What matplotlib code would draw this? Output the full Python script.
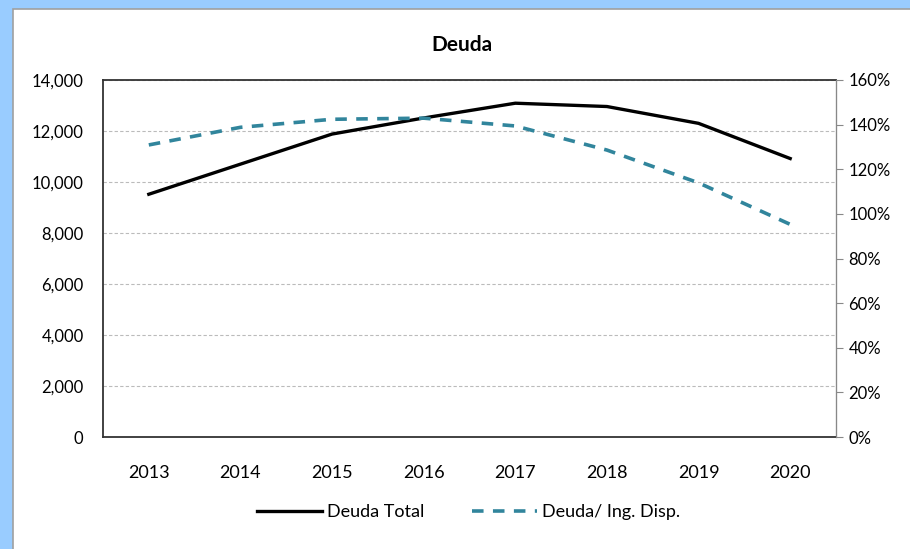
import matplotlib.pyplot as plt
from matplotlib.patches import Rectangle
from matplotlib.ticker import FuncFormatter, MultipleLocator

plt.rcParams['font.family'] = ['Lato', 'DejaVu Sans']

# datos
years = ['2013', '2014', '2015', '2016', '2017', '2018', '2019', '2020']
deuda_total = [9520, 10700, 11880, 12510, 13090, 12960, 12300, 10920]
deuda_ing = [1.309, 1.388, 1.424, 1.429, 1.394, 1.286, 1.139, 0.953]

fig = plt.figure(figsize=(9.1, 5.49), dpi=100, facecolor='#99CCFF')
fig.patches.append(Rectangle((13 / 910, -0.05), 1.1, 1.05 - 9 / 549, transform=fig.transFigure,
                             facecolor='white', edgecolor='#A0A0A0', linewidth=1.2, zorder=-10))

ax = fig.add_axes([103 / 910, 1 - 437 / 549, (836 - 103) / 910, (437 - 80) / 549])
ax2 = ax.twinx()

x = list(range(len(years)))
l1, = ax.plot(x, deuda_total, color='black', linewidth=2.4, label='Deuda Total', zorder=3)
l2, = ax2.plot(x, deuda_ing, color='#31859C', linewidth=2.6, linestyle=(0, (3.2, 2.6)),
               label='Deuda/ Ing. Disp.')

ax.set_xlim(-0.5, len(years) - 0.5)
ax.set_ylim(0, 14000)
ax2.set_ylim(0, 1.6)
ax.set_xticks(x)
ax.set_xticklabels(years)
ax.yaxis.set_major_locator(MultipleLocator(2000))
ax.yaxis.set_major_formatter(FuncFormatter(lambda v, p: f'{int(v):,}'))
ax2.yaxis.set_major_locator(MultipleLocator(0.2))
ax2.yaxis.set_major_formatter(FuncFormatter(lambda v, p: f'{v * 100:.0f}%'))

ax.grid(axis='y', color='#BBBBBB', linestyle=(0, (3, 2)), linewidth=0.8)
ax.set_axisbelow(True)
ax.tick_params(axis='y', length=0, labelsize=12, pad=14)
ax.tick_params(axis='x', length=0, pad=20, labelsize=13)
ax2.tick_params(axis='y', length=5, direction='out', color='#888888', labelsize=12, pad=4)

for s in ['left', 'top', 'bottom']:
    ax.spines[s].set_color('#333333')
    ax.spines[s].set_linewidth(1.3)
ax2.spines['right'].set_color('#888888')
for s in ['left', 'top', 'bottom']:
    ax2.spines[s].set_visible(False)

fig.text(0.508, 1 - 45 / 549, 'Deuda', ha='center', va='center', fontsize=15, fontweight='bold')

fig.legend(handles=[l1, l2], loc='center', bbox_to_anchor=(0.515, 1 - 512 / 549), ncol=2,
           frameon=False, fontsize=13, handlelength=3.6, handletextpad=0.3, columnspacing=2.6)

fig.savefig('out.png', dpi=100, facecolor=fig.get_facecolor())
